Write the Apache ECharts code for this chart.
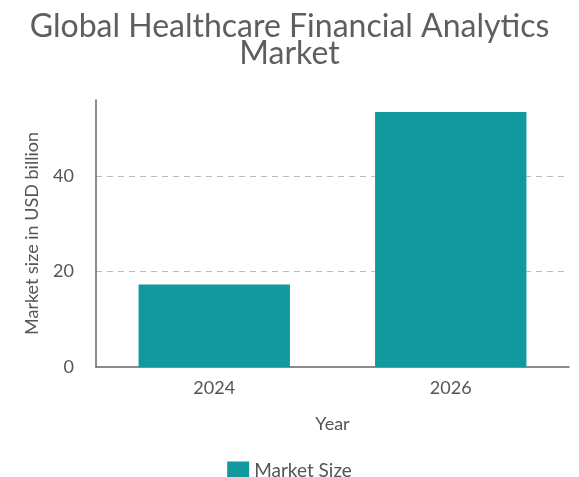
<!DOCTYPE html>
<html>
<head>
<meta charset="utf-8">
<script src="https://cdn.jsdelivr.net/npm/echarts@6/dist/echarts.min.js"></script>
<style>
html,body{margin:0;padding:0;background:#fff;}
#chart{width:579px;height:477px;}
</style>
</head>
<body>
<div id="chart"></div>
<script>
var titleText = 'Global Healthcare Financial Analytics\nMarket';
var categories = ['2024', '2026'];
var seriesName = 'Market Size';
var values = [17.3, 53.5];
var yAxisName = 'Market size in USD billion';
var xAxisName = 'Year';

var chart = echarts.init(document.getElementById('chart'));
chart.setOption({
  backgroundColor: '#ffffff',
  animation: false,
  textStyle: { fontFamily: 'Lato' },
  title: {
    text: titleText,
    left: 'center',
    top: 13,
    padding: 0,
    textStyle: { fontFamily: 'Lato', fontSize: 32, fontWeight: 'normal', color: '#5e5e5e', lineHeight: 27 }
  },
  legend: {
    top: 456,
    left: 'center',
    itemWidth: 22,
    itemHeight: 18,
    icon: 'rect',
    itemGap: 10,
    textStyle: { fontFamily: 'Lato', fontSize: 19, color: '#555555' },
    data: [seriesName]
  },
  grid: { left: 96, right: 10, top: 100, bottom: 110 },
  xAxis: {
    type: 'category',
    data: categories,
    name: xAxisName,
    nameLocation: 'middle',
    nameGap: 48,
    nameTextStyle: { fontFamily: 'Lato', fontSize: 18, color: '#555555' },
    axisLine: { show: true, lineStyle: { color: '#666666', width: 1.5 } },
    axisTick: { show: false },
    axisLabel: { fontFamily: 'Lato', fontSize: 18, color: '#555555', margin: 12 }
  },
  yAxis: {
    type: 'value',
    min: 0,
    max: 56,
    interval: 20,
    name: yAxisName,
    nameLocation: 'middle',
    nameGap: 55,
    nameTextStyle: { fontFamily: 'Lato', fontSize: 18, color: '#555555' },
    axisLine: { show: true, lineStyle: { color: '#666666', width: 1.5 } },
    axisTick: { show: false },
    axisLabel: { fontFamily: 'Lato', fontSize: 18, color: '#555555', margin: 22, showMaxLabel: false },
    splitLine: { show: true, showMinLine: false, showMaxLine: false, lineStyle: { type: [6, 5], color: '#bbbbbb', width: 1 } }
  },
  series: [{
    name: seriesName,
    type: 'bar',
    data: values,
    barWidth: '64%',
    itemStyle: { color: '#12999e' }
  }]
});
</script>
</body>
</html>
